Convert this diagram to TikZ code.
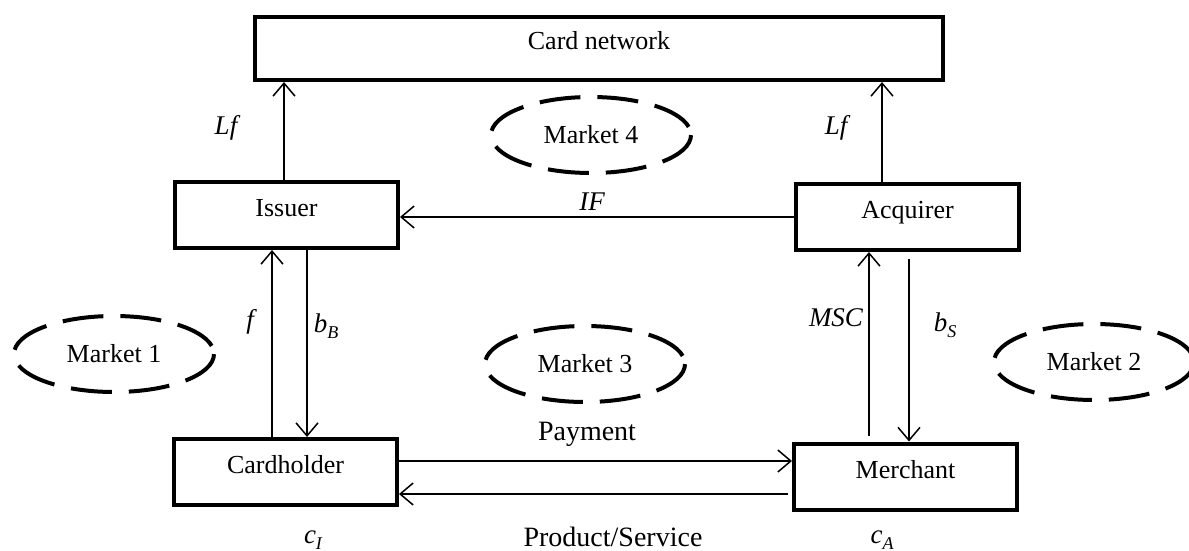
\documentclass[tikz,border=0pt]{standalone}
\usepackage{fontspec}
\setmainfont{Liberation Serif}
\usetikzlibrary{shapes.geometric,arrows.meta}
\newcommand{\subl}[1]{\raisebox{-6pt}{\fontsize{18}{20}\selectfont #1}}
\begin{document}
\begin{tikzpicture}[x=1pt,y=-1pt,
  box/.style={draw, line width=4pt, minimum width=223pt, minimum height=66pt, inner sep=0pt,
    text height=18pt, text depth=15pt, font=\fontsize{26}{31}\selectfont},
  mkt/.style={ellipse, draw, line width=4pt, dash pattern=on 41pt off 17pt, dash phase=49.5pt,
    minimum width=200pt, minimum height=76pt, inner sep=0pt, font=\fontsize{26}{31}\selectfont},
  arr/.style={line width=1.5pt, -{Straight Barb[length=13pt,width=22pt,line width=1.5pt]}},
  lab/.style={inner sep=0pt, font=\fontsize{27}{31}\selectfont\itshape},
  txt/.style={inner sep=0pt, font=\fontsize{28}{33}\selectfont}]
\fill[white] (0,0) rectangle (1189,551);
\useasboundingbox (0,0) rectangle (1189,551);

% boxes
\node[box, minimum width=688pt, minimum height=63pt] (net) at (599,48.5) {Card network};
\node[box] (iss) at (286.5,215) {Issuer};
\node[box] (acq) at (907.5,217) {Acquirer};
\node[box] (ch) at (285.5,472) {Cardholder};
\node[box] (mer) at (905.5,476.5) {Merchant};

% markets
\node[mkt] (m4) at (591,135) {Market 4};
\node[mkt] (m1) at (114,354) {Market 1};
\node[mkt] (m3) at (585,364) {Market 3};
\node[mkt] (m2) at (1094,362) {Market 2};

% connectors
\coordinate (p1) at ([xshift=-2.5pt]iss.north);
\draw[arr] (p1) -- (p1 |- net.south);
\coordinate (p2) at ([xshift=-25.5pt]acq.north);
\draw[arr] (p2) -- (p2 |- net.south);
\draw[arr] (acq.west) -- (acq.west -| iss.east);
\coordinate (p3) at ([xshift=-13.5pt]ch.north);
\draw[arr] (p3) -- (p3 |- iss.south);
\coordinate (p4) at ([xshift=20.5pt]iss.south);
\draw[arr] (p4) -- (p4 |- ch.north);
\coordinate (p5) at ([xshift=-36.5pt,yshift=6pt]mer.north);
\draw[arr] (p5) -- (p5 |- acq.south);
\coordinate (p6) at ([xshift=1.5pt,yshift=-7pt]acq.south);
\draw[arr] (p6) -- (p6 |- mer.north);
\coordinate (p7) at ([yshift=11pt]ch.east);
\draw[arr] (p7) -- (p7 -| mer.west);
\coordinate (p8) at ([xshift=-4pt,yshift=-17.5pt]mer.west);
\draw[arr] (p8) -- (p8 -| ch.east);

% labels
\node[lab] (lf1) at (226,128) {Lf};
\node[lab] (lf2) at (836,128) {Lf};
\node[lab] (if) at (592,202) {IF};
\node[lab] (f) at (250,322) {f};
\node[lab] (bb) at (326,326) {b\subl{B}};
\node[lab] (msc) at (836,318) {MSC};
\node[lab] (bs) at (945,325) {b\subl{S}};
\node[lab] (ci) at (313,540) {c\subl{I}};
\node[lab] (ca) at (882,540) {c\subl{A}};
\node[txt] (pay) at (587,434) {Payment};
\node[txt] (prod) at (613,537) {Product/Service};
\end{tikzpicture}
\end{document}
